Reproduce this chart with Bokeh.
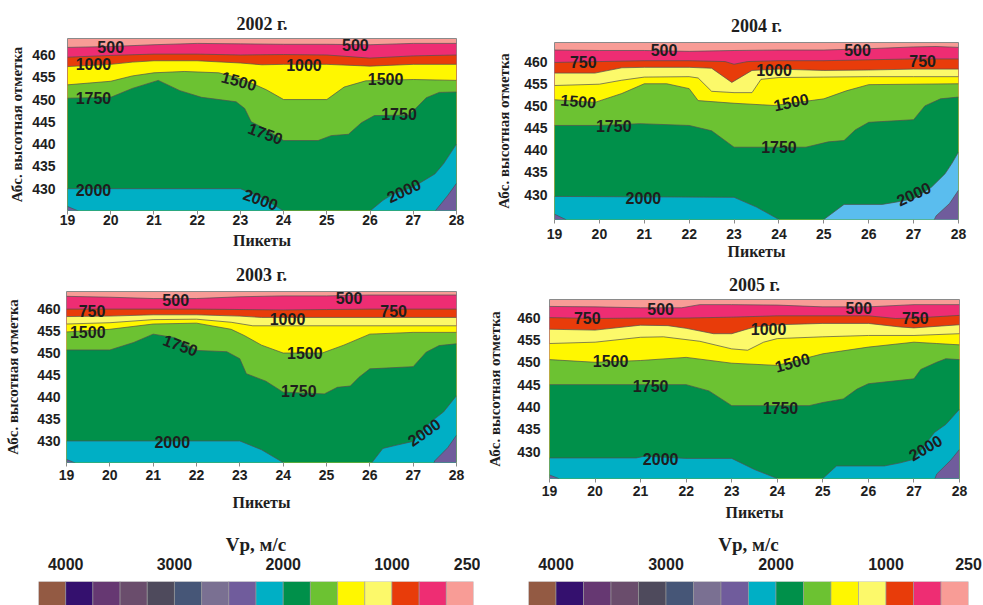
from bokeh.plotting import figure
from bokeh.layouts import column, row
from bokeh.models import Range1d, FixedTicker
from bokeh.embed import file_html
from bokeh.resources import INLINE
from bokeh.core.properties import value

# ---------------- data ----------------
PICKETS = [19, 20, 21, 22, 23, 24, 25, 26, 27, 28]
ELEV_TICKS = [430, 435, 440, 445, 450, 455, 460]

# contour boundaries (picket, elevation) for each year; level in the name (Vp, m/s)
Y_RANGE_2002 = (425.1, 463.7)
B02_500 = [(19, 461.7), (20, 461.9), (21, 462.3), (22, 462.6), (23, 462.5), (24, 462.4), (25, 462.4), (26, 462.3), (27, 462.6), (28, 462.6)]
B02_750 = [(19, 459.5), (20, 459.9), (21, 460.2), (22, 460.2), (23, 460.0), (24, 460.1), (25, 460.0), (26, 459.3), (27, 459.8), (28, 460.0)]
B02_1000 = [(19, 457.4), (20, 457.9), (20.5, 458.4), (21, 458.7), (22, 458.7), (23, 458.2), (23.5, 457.8), (24, 457.9), (25, 457.9), (26, 457.5), (27, 457.9), (28, 457.9)]
B02_1500 = [(19, 453.3), (20, 454.1), (20.5, 455.3), (21, 456.0), (21.7, 456.3), (22.5, 456.0), (22.9, 455.0), (23.3, 453.5), (23.6, 452.2), (24, 450.0), (25, 450.0), (25.4, 452.8), (25.9, 454.2), (27, 454.5), (28, 454.3)]
B02_1750 = [(19, 450.3), (20, 450.5), (20.5, 452.5), (21.1, 454.3), (21.6, 452.0), (22.1, 450.5), (22.9, 449.5), (23.1, 448.0), (23.25, 445.0), (23.5, 443.8), (24, 440.8), (24.8, 440.8), (25.1, 441.9), (25.5, 442.2), (25.8, 444.8), (26.1, 446.4), (26.9, 446.5), (27.3, 450.4), (27.6, 451.6), (28, 451.7)]
B02_2000 = [(19, 430.0), (23, 430.0), (23.5, 428.0), (24, 425.0), (24.2, 422.0), (25.8, 422.0), (26.0, 425.0), (26.3, 427.4), (26.55, 428.9), (27.0, 430.4), (27.5, 433.3), (27.7, 435.6), (28, 440.0)]
B02_2250R = [(27.35, 423.0), (27.55, 425.5), (27.8, 428.5), (28, 431.2)]
B02_2250L = [(19, 426.0), (19.25, 425.0), (19.4, 423.0)]
LBL_2002 = [("500", 20.0, 461.8, 0), ("500", 25.66, 462.2, 0), ("1000", 19.6, 457.9, 0), ("1000", 24.47, 457.7, 0),
            ("1500", 22.97, 454.2, -15), ("1500", 26.36, 454.7, 0), ("1750", 19.6, 450.3, 0), ("1750", 23.58, 442.4, -20),
            ("1750", 26.67, 446.75, 0), ("2000", 19.6, 429.8, 0), ("2000", 23.47, 427.6, -20), ("2000", 26.78, 429.6, 25)]

Y_RANGE_2004 = (424.4, 464.3)
B04_500 = [(19, 462.6), (20, 462.5), (21, 462.5), (22, 462.3), (23, 462.5), (24, 462.6), (25, 462.6), (26, 462.9), (27, 463.3), (27.5, 463.4), (28, 463.2)]
B04_750 = [(19, 459.8), (20, 460.0), (21, 460.2), (22, 460.2), (22.8, 460.0), (23, 459.4), (23.3, 460.0), (24, 460.2), (25, 460.2), (26, 460.4), (27, 460.6), (28, 460.6)]
B04_1000 = [(19, 457.4), (19.9, 457.4), (20.5, 458.6), (21, 458.7), (22, 458.7), (22.5, 458.5), (22.95, 455.3), (23.4, 458.0), (24, 458.3), (25, 458.0), (26, 458.1), (27, 458.3), (28, 458.3)]
B04_1250 = [(19, 454.6), (20, 454.9), (20.5, 455.8), (21, 456.5), (22, 456.6), (22.2, 456.3), (22.5, 453.3), (23.0, 453.0), (23.4, 453.0), (23.6, 456.0), (24, 456.4), (25, 456.5), (26, 456.6), (27, 456.6), (28, 456.6)]
B04_1500 = [(19, 451.4), (19.9, 450.8), (20.5, 452.8), (21, 455.0), (21.5, 455.0), (22, 453.9), (22.2, 451.2), (23, 450.6), (23.9, 450.1), (25, 451.6), (25.5, 453.4), (26, 454.8), (28, 455.0)]
B04_1750 = [(19, 445.6), (20, 445.6), (20.9, 446.0), (22, 445.6), (22.5, 444.4), (23, 440.7), (24.6, 440.7), (25.1, 441.9), (25.45, 442.2), (25.7, 444.6), (26, 446.3), (27, 446.9), (27.25, 450.0), (27.6, 451.6), (28, 452.0)]
B04_2000L = [(19, 429.6), (23, 429.4), (23.5, 427.2), (24, 424.4), (24.2, 422.0)]
B04_2000R = [(24.85, 422.0), (25.0, 424.4), (25.45, 427.8), (26.3, 427.8), (26.6, 428.3), (27, 429.1), (27.4, 431.7), (27.7, 434.7), (27.85, 437.0), (28, 439.6)]
B04_2250R = [(27.35, 422.0), (27.5, 425.2), (27.8, 428.0), (28, 431.0)]
B04_2250L = [(19, 425.6), (19.25, 424.4), (19.4, 422.0)]
LBL_2004 = [("500", 21.44, 462.6, 0), ("500", 25.75, 462.6, 0), ("750", 19.64, 459.8, 0), ("750", 27.2, 460.2, 0),
            ("1000", 23.89, 458.2, 0), ("1500", 19.53, 451.1, -5), ("1500", 24.27, 450.9, 12), ("1750", 20.32, 445.4, 0),
            ("1750", 24.0, 440.7, 0), ("2000", 20.98, 429.2, 0), ("2000", 27.0, 430.2, 25)]

Y_RANGE_2003 = (425.1, 464.0)
B03_500 = [(19, 462.9), (20, 462.7), (21, 462.4), (22, 462.4), (23, 462.8), (24, 463.0), (25, 463.0), (26, 463.2), (27, 463.2), (28, 463.2)]
B03_750 = [(19, 460.0), (22, 460.0), (23, 459.9), (24, 459.8), (25, 459.9), (26, 460.0), (28, 460.0)]
B03_1000 = [(19, 458.3), (20, 458.4), (21, 458.7), (22, 458.7), (23, 458.4), (23.5, 458.1), (28, 458.1)]
B03_1250 = [(19, 456.6), (20, 456.9), (21, 457.6), (22, 457.7), (22.8, 457.0), (23.3, 456.2), (28, 456.2)]
B03_1500 = [(19, 454.8), (20, 455.4), (21, 456.6), (22, 456.8), (22.8, 455.4), (23.1, 454.0), (23.5, 451.8), (24, 450.0), (24.9, 450.0), (25.4, 451.8), (26, 454.3), (27, 454.7), (28, 454.7)]
B03_1750 = [(19, 450.7), (20, 450.7), (20.55, 452.4), (21, 454.3), (21.5, 453.5), (22, 450.6), (22.7, 450.3), (23, 448.7), (23.15, 445.3), (23.6, 443.6), (24, 441.1), (24.95, 440.7), (25.25, 442.2), (25.55, 442.5), (25.75, 444.5), (26, 446.4), (27, 446.9), (27.3, 450.2), (27.6, 451.7), (28, 452.1)]
B03_2000 = [(19, 430.0), (23, 430.0), (23.5, 428.0), (24, 425.1), (24.2, 422.0), (25.9, 422.0), (26.05, 425.1), (26.3, 428.3), (26.6, 429.0), (27, 429.9), (27.4, 434.3), (27.7, 436.6), (28, 440.3)]
B03_2250R = [(27.35, 422.0), (27.5, 425.5), (27.8, 428.5), (28, 431.3)]
B03_2250L = [(19, 425.8), (19.2, 425.0), (19.35, 422.0)]
LBL_2003 = [("500", 21.52, 462.0, 0), ("500", 25.52, 462.5, 0), ("750", 19.59, 459.6, 0), ("750", 26.55, 459.6, 0),
            ("1000", 24.1, 457.7, 0), ("1500", 19.49, 454.7, 0), ("1500", 24.5, 449.9, 0), ("1750", 21.63, 451.8, -20),
            ("1750", 24.36, 441.3, 0), ("2000", 21.44, 429.8, 0), ("2000", 27.25, 432.0, 35)]

Y_RANGE_2005 = (424.0, 464.05)
B05_500 = [(19, 462.5), (20, 462.4), (21, 462.2), (21.9, 462.2), (22.3, 462.9), (23, 462.9), (24, 462.8), (25, 462.4), (26, 462.4), (27, 462.9), (28, 462.9)]
B05_750 = [(19, 460.0), (20, 459.8), (21, 459.9), (22, 459.9), (23, 460.1), (24, 460.4), (25, 460.4), (26, 460.4), (26.6, 459.8), (27, 459.9), (28, 460.5)]
B05_1000 = [(19, 457.4), (20, 457.2), (21, 458.3), (21.6, 458.2), (22, 457.6), (22.6, 456.4), (23, 456.4), (23.5, 457.9), (24, 458.4), (25, 458.7), (26, 458.7), (26.7, 457.9), (27, 457.7), (28, 458.4)]
B05_1250 = [(19, 454.2), (20, 454.5), (21, 455.6), (21.5, 455.7), (22.3, 454.7), (23, 453.0), (23.35, 452.7), (23.7, 454.5), (24, 455.3), (25, 455.7), (26, 456.0), (27, 456.0), (28, 456.4)]
B05_1500 = [(19, 450.6), (20, 450.0), (21, 450.4), (22, 451.1), (23, 449.8), (24, 449.3), (25, 451.9), (26, 453.4), (27, 454.5), (27.5, 454.2), (28, 453.9)]
B05_1750 = [(19, 445.0), (22, 445.0), (22.5, 443.6), (23, 440.3), (24.7, 440.3), (25, 441.0), (25.45, 441.8), (25.75, 444.0), (26, 445.2), (27, 446.3), (27.15, 448.4), (27.5, 450.0), (27.7, 450.8), (28, 450.6)]
B05_2000 = [(19, 428.6), (20.9, 428.6), (21.1, 429.0), (22, 428.5), (23, 428.5), (23.5, 426.0), (24, 424.0), (24.2, 421.0), (24.9, 421.0), (25, 424.0), (25.3, 426.8), (26.35, 426.8), (26.7, 427.5), (27, 428.3), (27.45, 434.3), (27.7, 436.1), (28, 439.5)]
B05_2250R = [(27.35, 421.0), (27.5, 425.0), (27.8, 428.0), (28, 430.5)]
B05_2250L = [(19, 424.8), (19.2, 424.0), (19.35, 421.0)]
LBL_2005 = [("500", 21.44, 462.0, 0), ("500", 25.79, 462.25, 0), ("750", 19.83, 459.8, 0), ("750", 27.03, 459.9, 0),
            ("1000", 23.81, 457.5, 0), ("1500", 20.34, 450.25, 0), ("1500", 24.33, 450.0, 15), ("1750", 21.22, 444.8, 0),
            ("1750", 24.07, 439.7, 0), ("2000", 21.44, 428.4, 0), ("2000", 27.25, 430.9, 30)]

# colour scale (Vp, m/s)
VP_EDGES = [4250, 4000, 3750, 3500, 3250, 3000, 2750, 2500, 2250, 2000, 1750, 1500, 1250, 1000, 750, 500, 250]
VP_TICKS = [4000, 3000, 2000, 1000, 250]

# ---------------- styles ----------------
VP_COLORS = ["#935a43", "#34106e", "#663872", "#6a4d6c", "#4e4a5c", "#465677", "#7a7092", "#705c9c",
             "#00afc5", "#00904a", "#6cc232", "#fff700", "#fcf96a", "#e83c0a", "#ee2d73", "#f89c96"]
C_SALMON, C_PINK, C_RED, C_LYEL, C_YEL = "#f89c96", "#ee2d73", "#e83c0a", "#fcf96a", "#fff700"
C_LGRN, C_GRN, C_CYAN, C_LBLUE, C_PURP = "#6cc232", "#00904a", "#00afc5", "#5abdee", "#705c9c"

TXT = "#1e1e1e"
SANS = "Liberation Sans"
SERIF = "Liberation Serif"


def panel(title, yr, layers, labels, width, height, mb, st):
    p = figure(width=width, height=height, x_range=Range1d(19, 28), y_range=Range1d(*yr),
               output_backend="svg", toolbar_location=None,
               min_border_left=mb[0], min_border_right=mb[1], min_border_top=mb[2], min_border_bottom=mb[3])
    p.frame_align = False
    p.background_fill_color = C_SALMON
    p.border_fill_color = "white"
    p.outline_line_color = "#8a8a8a"
    p.outline_line_width = 1
    p.grid.visible = False
    ybot = yr[0] - 5
    for pts, col in layers:
        xs = [a for a, b in pts]
        ys = [b for a, b in pts]
        p.patch(xs + [xs[-1], xs[0]], ys + [ybot, ybot], fill_color=col, line_color=None)
    for pts, col in layers:
        xs = [a for a, b in pts]
        ys = [b for a, b in pts]
        p.line(xs, ys, line_color="#505050", line_width=0.7)
    p.text(x=[l[1] for l in labels], y=[l[2] for l in labels], text=[l[0] for l in labels],
           angle=[l[3] for l in labels], angle_units="deg",
           text_align="center", text_baseline="middle", text_font=value(SANS),
           text_font_style="bold", text_font_size="16px", text_color=TXT)

    p.title.text = title
    p.title.align = "center"
    p.title.text_font = SERIF
    p.title.text_font_size = "18px"
    p.title.text_font_style = "bold"
    p.title.text_color = TXT
    p.title.standoff = st["title"]

    for ax in (p.xaxis[0], p.yaxis[0]):
        ax.axis_line_color = None
        ax.minor_tick_line_color = None
        ax.major_label_text_font = SANS
        ax.major_label_text_font_style = "bold"
        ax.major_label_text_font_size = "14px"
        ax.major_label_text_color = TXT
        ax.axis_label_text_font = SERIF
        ax.axis_label_text_font_style = "bold"
        ax.axis_label_text_color = TXT
    xa = p.xaxis[0]
    xa.ticker = FixedTicker(ticks=PICKETS)
    xa.major_tick_line_color = "#8a8a8a"
    xa.major_tick_out = 4
    xa.major_tick_in = 0
    xa.major_label_standoff = st["xtick"]
    xa.axis_label = "Пикеты"
    xa.axis_label_text_font_size = "16px"
    xa.axis_label_standoff = st["xlab"]
    ya = p.yaxis[0]
    ya.ticker = FixedTicker(ticks=ELEV_TICKS)
    ya.major_tick_line_color = None
    ya.major_tick_out = 0
    ya.major_tick_in = 0
    ya.major_label_standoff = st["ytick"]
    ya.axis_label = "Абс. высотная отметка"
    ya.axis_label_text_font_size = "15px"
    ya.axis_label_standoff = st["ylab"]
    return p


def colorbar(width, mb):
    c = figure(width=width, height=80, x_range=Range1d(VP_EDGES[0], VP_EDGES[-1]), y_range=Range1d(0, 1),
               output_backend="svg", toolbar_location=None, x_axis_location="above", y_axis_location=None,
               min_border_left=mb[0], min_border_right=mb[1], min_border_top=56, min_border_bottom=0)
    c.frame_align = False
    c.quad(left=VP_EDGES[:-1], right=VP_EDGES[1:], bottom=0, top=1, fill_color=VP_COLORS,
           line_color="#9a9a9a", line_width=0.6)
    c.outline_line_color = None
    c.grid.visible = False
    ax = c.xaxis[0]
    ax.ticker = FixedTicker(ticks=VP_TICKS)
    ax.axis_line_color = None
    ax.major_tick_line_color = None
    ax.minor_tick_line_color = None
    ax.major_tick_out = 0
    ax.major_label_standoff = 12
    ax.major_label_text_font = SANS
    ax.major_label_text_font_style = "bold"
    ax.major_label_text_font_size = "16px"
    ax.major_label_text_color = TXT
    ax.axis_label = "Vp, м/с"
    ax.axis_label_standoff = 0
    ax.axis_label_text_font = SERIF
    ax.axis_label_text_font_style = "bold"
    ax.axis_label_text_font_size = "19px"
    ax.axis_label_text_color = TXT
    return c


L2002 = [(B02_500, C_PINK), (B02_750, C_RED), (B02_1000, C_YEL), (B02_1500, C_LGRN), (B02_1750, C_GRN),
         (B02_2000, C_CYAN), (B02_2250R, C_PURP), (B02_2250L, C_PURP)]
L2004 = [(B04_500, C_PINK), (B04_750, C_RED), (B04_1000, C_LYEL), (B04_1250, C_YEL), (B04_1500, C_LGRN),
         (B04_1750, C_GRN), (B04_2000L, C_CYAN), (B04_2000R, C_LBLUE), (B04_2250R, C_PURP), (B04_2250L, C_PURP)]
L2003 = [(B03_500, C_PINK), (B03_750, C_RED), (B03_1000, C_LYEL), (B03_1250, C_YEL), (B03_1500, C_LGRN),
         (B03_1750, C_GRN), (B03_2000, C_CYAN), (B03_2250R, C_PURP), (B03_2250L, C_PURP)]
L2005 = [(B05_500, C_PINK), (B05_750, C_RED), (B05_1000, C_LYEL), (B05_1250, C_YEL), (B05_1500, C_LGRN),
         (B05_1750, C_GRN), (B05_2000, C_CYAN), (B05_2250R, C_PURP), (B05_2250L, C_PURP)]

# left column: 2002 (0-255), 2003 (255-525); right column: 2004 (0-264), 2005 (264-525)
p1 = panel("2002 г.", Y_RANGE_2002, L2002, LBL_2002, 480, 255, (67, 24, 38, 45),
           dict(title=9, xtick=0, xlab=4, ytick=12, ylab=4))
p3 = panel("2003 г.", Y_RANGE_2003, L2003, LBL_2003, 480, 270, (66, 24, 36, 63),
           dict(title=14, xtick=3, xlab=11, ytick=6, ylab=13))
p2 = panel("2004 г.", Y_RANGE_2004, L2004, LBL_2004, 503, 264, (74, 25, 42, 45),
           dict(title=13, xtick=5, xlab=1, ytick=7, ylab=9))
p4 = panel("2005 г.", Y_RANGE_2005, L2005, LBL_2005, 503, 261, (69, 24, 35, 47),
           dict(title=9, xtick=3, xlab=5, ytick=9, ylab=11))
c1 = colorbar(480, (38, 7))
c2 = colorbar(503, (48, 15))

layout = row(column(p1, p3, c1), column(p2, p4, c2))
open("out.html", "w").write(file_html(layout, INLINE))
